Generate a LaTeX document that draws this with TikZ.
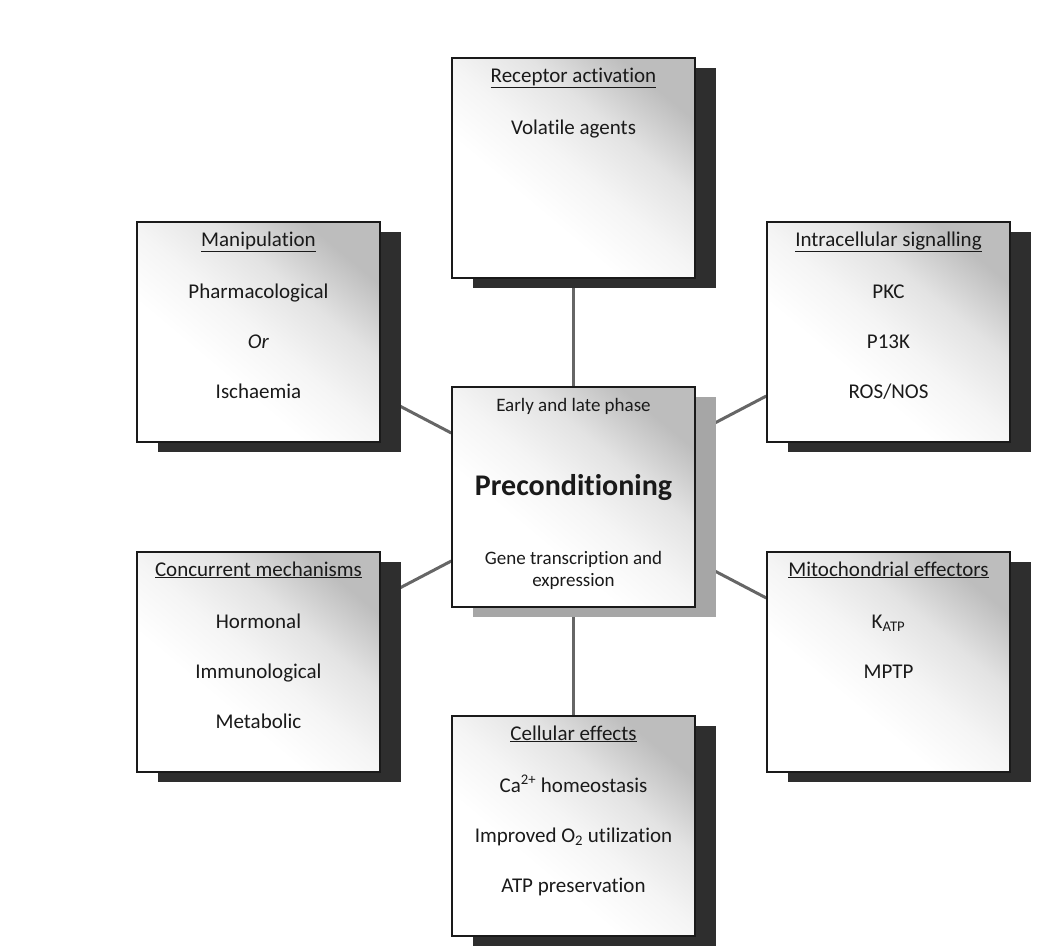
\documentclass[tikz,border=0pt]{standalone}
\usepackage{fontspec}
\setmainfont{Carlito}[Ligatures=NoCommon]
\usepackage{tikz}
\usetikzlibrary{shadows}
\pgfdeclarelayer{edgelayer}
\pgfsetlayers{edgelayer,main}
\definecolor{inkgrey}{HTML}{1A1A1A}
\definecolor{linkgrey}{HTML}{666666}
\pgfdeclareverticalshading{panelfade}{100bp}{color(0bp)=(white); color(38bp)=(white);
  color(50bp)=(black!4); color(62bp)=(black!11); color(75bp)=(black!26); color(100bp)=(black!26)}
\tikzset{
  box/.style={draw=inkgrey, line width=1.5pt, inner sep=0pt, text=inkgrey,
    shade, shading=panelfade, shading angle=-40},
  panel/.style={box, general shadow={shadow xshift=21pt, shadow yshift=-10pt, fill=black!82}},
  hub/.style={box, general shadow={shadow xshift=21pt, shadow yshift=-10pt, fill=black!35}},
  link/.style={draw=linkgrey, line width=3pt},
}
\newcommand{\boxtext}[1]{\begin{minipage}[t][220pt][t]{243pt}\centering
  \fontsize{21}{50}\selectfont\lineskiplimit=-100pt\rule{0pt}{24pt}#1\end{minipage}}

\begin{document}
\begin{tikzpicture}[x=1pt, y=-1pt]
  \useasboundingbox (0,0) rectangle (1053,946);

  % Nodes
  \node[panel] (recept) at (573.5,168) {\boxtext{\underline{Receptor activation}\\[2pt] Volatile agents}};
  \node[panel] (manip)  at (258.5,332) {\boxtext{\underline{Manipulation}\\[2pt] Pharmacological\\ \textit{Or}\\ Ischaemia}};
  \node[panel] (signal) at (888.5,332) {\boxtext{\underline{Intracellular signalling}\\[2pt] PKC\\ P13K\\ ROS/NOS}};
  \node[hub]   (precond) at (573.5,497) {\boxtext{\fontsize{19}{22}\selectfont Early and late phase\\[62pt]
      {\fontsize{30}{22}\selectfont\bfseries Preconditioning}\\[47pt] Gene transcription and\\ expression}};
  \node[panel] (concur) at (258.5,662) {\boxtext{\underline{Concurrent mechanisms}\\[2pt] Hormonal\\ Immunological\\ Metabolic}};
  \node[panel] (mito)   at (888.5,662) {\boxtext{\underline{Mitochondrial effectors}\\[2pt] K\textsubscript{ATP}\\ MPTP}};
  \node[panel] (cell)   at (573.5,826) {\boxtext{\underline{Cellular effects}\\[2pt] Ca\textsuperscript{2+} homeostasis\\
      Improved O\textsubscript{2} utilization\\ ATP preservation}};

  % Edges
  \begin{pgfonlayer}{edgelayer}
    \draw[link] (recept) -- (precond);
    \draw[link] (manip) -- (precond);
    \draw[link] (signal) -- (precond);
    \draw[link] (concur) -- (precond);
    \draw[link] (mito) -- (precond);
    \draw[link] (cell) -- (precond);
  \end{pgfonlayer}

\end{tikzpicture}
\end{document}
